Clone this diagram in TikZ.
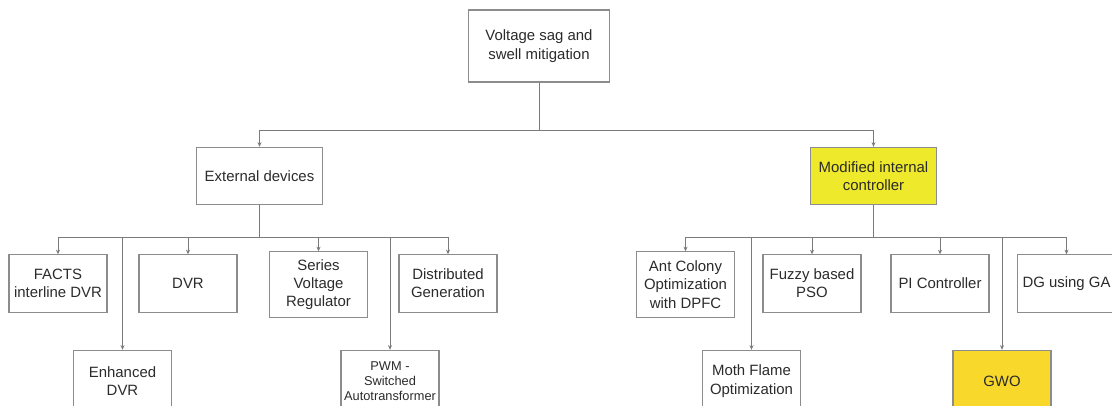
\documentclass[tikz,border=0pt]{standalone}
\usepackage{fontspec}
\setmainfont{Liberation Sans}
\usetikzlibrary{arrows.meta}
\definecolor{edge}{HTML}{8C8C8C}
\definecolor{wire}{HTML}{7A7A7A}
\definecolor{ink}{HTML}{2B2B2B}
\definecolor{hilite}{HTML}{EFE92C}
\definecolor{gold}{HTML}{F8D92B}
\begin{document}
\begin{tikzpicture}[x=0.75pt,y=-0.75pt,
  box/.style={draw=edge,line width=0.8pt,fill=white,align=center,text=ink,
    font=\fontsize{11.2}{13.7}\selectfont,inner sep=0pt,
    minimum width=73.5pt,minimum height=43pt},
  tall/.style={minimum height=49pt},
  small/.style={font=\fontsize{9.6}{11.5}\selectfont},
  link/.style={draw=wire,line width=0.7pt},
  arr/.style={link,-{Stealth[length=3.5pt,width=3pt]}}]
\useasboundingbox (0,0) rectangle (1112,405);
\fill[white] (0,0) rectangle (1112,405);

% root and the two main branches
\node[box,minimum width=106pt,minimum height=54pt] (root) at (539,46) {Voltage sag and\\swell mitigation};
\node[box,minimum width=95pt] (ext) at (259.5,176) {External devices};
\node[box,minimum width=95pt,fill=hilite] (mod) at (873.5,176) {Modified internal\\controller};

% external devices
\node[box] (facts) at (58,283.5) {FACTS\\interline DVR};
\node[box] (dvr) at (188,283.5) {DVR};
\node[box,tall] (svr) at (318.5,284.5) {Series\\Voltage\\Regulator};
\node[box] (dg) at (448,283.5) {Distributed\\Generation};
\node[box,minimum height=46pt] (edvr) at (122.5,381) {Enhanced\\DVR};
\node[box,small,minimum height=46pt] (pwm) at (390,381) {PWM -\\Switched\\Autotransformer};

% modified internal controller
\node[box,tall] (aco) at (685.5,284.5) {Ant Colony\\Optimization\\with DPFC};
\node[box] (pso) at (812,283.5) {Fuzzy based\\PSO};
\node[box] (pi) at (940,283.5) {PI Controller};
\node[box] (ga) at (1066.5,283.5) {DG using GA};
\node[box,minimum height=46pt] (mfo) at (751.5,381) {Moth Flame\\Optimization};
\node[box,minimum height=46pt,fill=gold] (gwo) at (1002,381) {GWO};

% connectors
\coordinate (j0) at (539,130);
\draw[link] (root.south) -- (j0);
\draw[arr] (j0) -| (ext.north);
\draw[arr] (j0) -| (mod.north);

\coordinate (j1) at (259.5,237);
\draw[link] (ext.south) -- (j1);
\draw[arr] (j1) -| (facts.north);
\draw[arr] (j1) -| (dvr.north);
\draw[arr] (j1) -| (svr.north);
\draw[arr] (j1) -| (dg.north);
\draw[arr] (j1) -| (edvr.north);
\draw[arr] (j1) -| (pwm.north);

\coordinate (j2) at (873.5,237);
\draw[link] (mod.south) -- (j2);
\draw[arr] (j2) -| (aco.north);
\draw[arr] (j2) -| (pso.north);
\draw[arr] (j2) -| (pi.north);
\draw[arr] (j2) -| (ga.north);
\draw[arr] (j2) -| (mfo.north);
\draw[arr] (j2) -| (gwo.north);
\end{tikzpicture}
\end{document}
